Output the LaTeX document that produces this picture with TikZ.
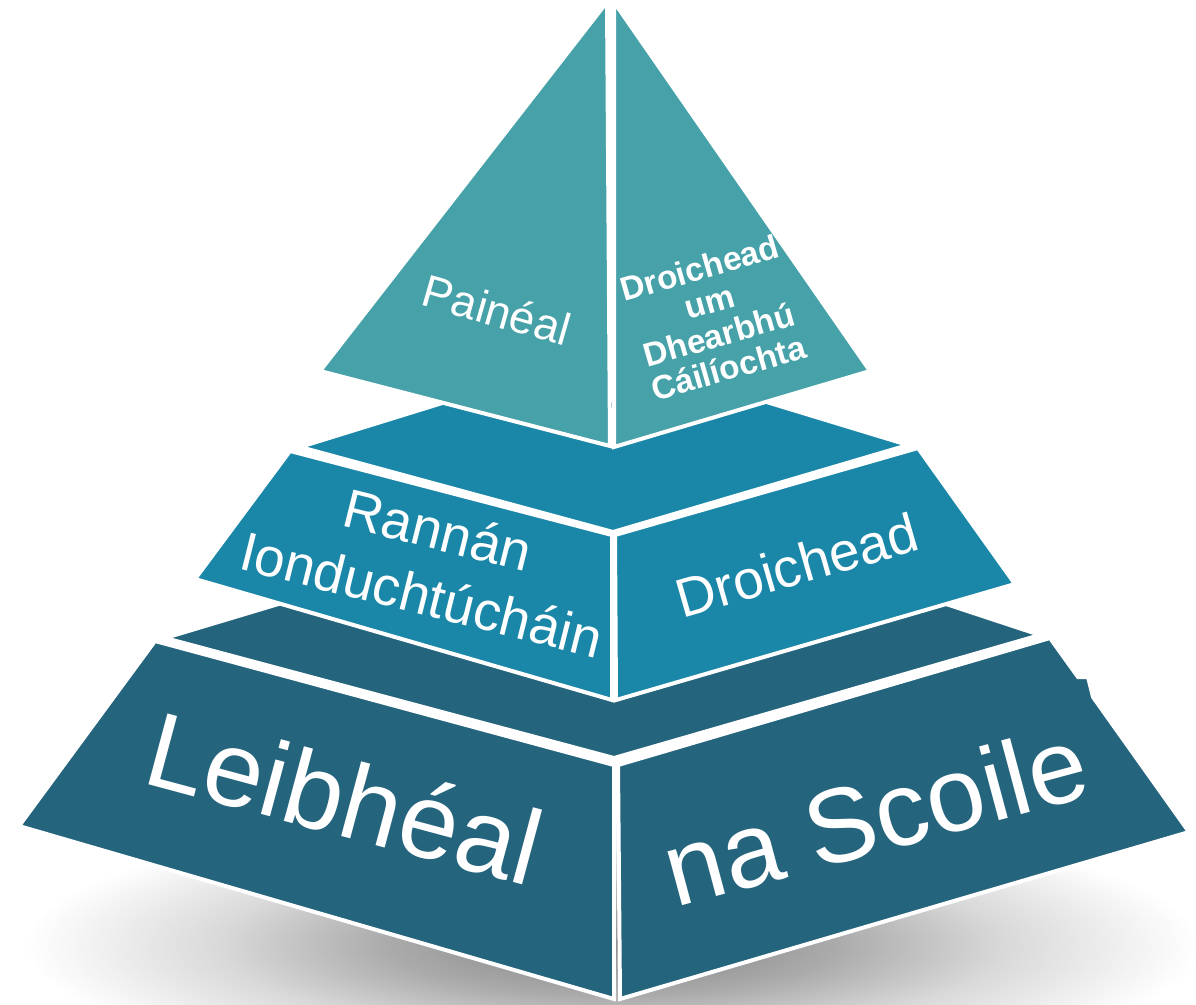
\documentclass[tikz,border=0pt]{standalone}
\usepackage{fontspec}
\setmainfont{Liberation Sans}
\usepackage{xcolor}
\definecolor{tierTop}{RGB}{70,161,168}
\definecolor{tierMid}{RGB}{27,135,168}
\definecolor{tierBase}{RGB}{37,100,125}
\pgfdeclareradialshading{groundshadow}{\pgfpoint{0bp}{0bp}}{color(0bp)=(black!50); color(8bp)=(black!33); color(14bp)=(black!15); color(21bp)=(white); color(25bp)=(white); color(50bp)=(white)}

\begin{document}
\begin{tikzpicture}[x=0.75pt,y=0.75pt,yscale=-1,xscale=1,
  face/.style={draw=white, line width=3pt, line join=miter},
  facetext/.style={text=white, align=center, inner sep=0.75pt}]
\useasboundingbox (0,0) rectangle (1196,1004);

%Shape: Shadow
\shade[shading=groundshadow] (612,945) ellipse (700 and 160);

%Shape: Base tier, top
\draw [face, fill=tierBase] (165,638) -- (285,602) -- (940,602) -- (1040,635) -- (614,758) -- cycle ;
%Shape: Base tier, left face
\draw [face, fill=tierBase] (155,641) -- (19,826) -- (614,999) -- (614,765) -- cycle ;
%Shape: Base tier, right face
\draw [face, fill=tierBase] (618,765) -- (1050,638) -- (1078,677) -- (1088,677) -- (1093,697) -- (1189,832) -- (620,999) -- cycle ;

%Shape: Middle tier, top
\draw [face, fill=tierMid] (300,447) -- (452,400) -- (760,400) -- (908,445) -- (613,532) -- cycle ;
%Shape: Middle tier, left face
\draw [face, fill=tierMid] (290,451) -- (195,579) -- (612,700) -- (612,535) -- cycle ;
%Shape: Middle tier, right face
\draw [face, fill=tierMid] (615,535) -- (918,448) -- (1015,584) -- (616,700) -- cycle ;

%Shape: Top pyramid, left face
\draw [face, fill=tierTop] (607,2) -- (320,371) -- (610,446) -- cycle ;
%Shape: Top pyramid, right face
\draw [face, fill=tierTop] (614,2) -- (870,371) -- (614,447) -- cycle ;

% Text Node
\node (paineal) [facetext, rotate=-16, font=\fontsize{34}{40}\selectfont] at (497,310) {Painéal};
% Text Node
\node (qabridge) [facetext, rotate=16, font=\fontsize{25}{26}\selectfont\bfseries] at (714,318) {Droichead\\um\\Dhearbhú\\Cáilíochta};
% Text Node
\node (rannan) [facetext, rotate=-14, font=\fontsize{41}{50}\selectfont] at (430,562) {Rannán\\Ionduchtúcháin};
% Text Node
\node (droichead) [facetext, rotate=16, font=\fontsize{41}{48}\selectfont] at (797,565) {Droichead};
% Text Node
\node (leibheal) [facetext, rotate=-15, font=\fontsize{80}{90}\selectfont] at (345,797) {Leibhéal};
% Text Node
\node (scoile) [facetext, rotate=15, font=\fontsize{79}{90}\selectfont] at (875,815) {na Scoile};

\end{tikzpicture}
\end{document}
